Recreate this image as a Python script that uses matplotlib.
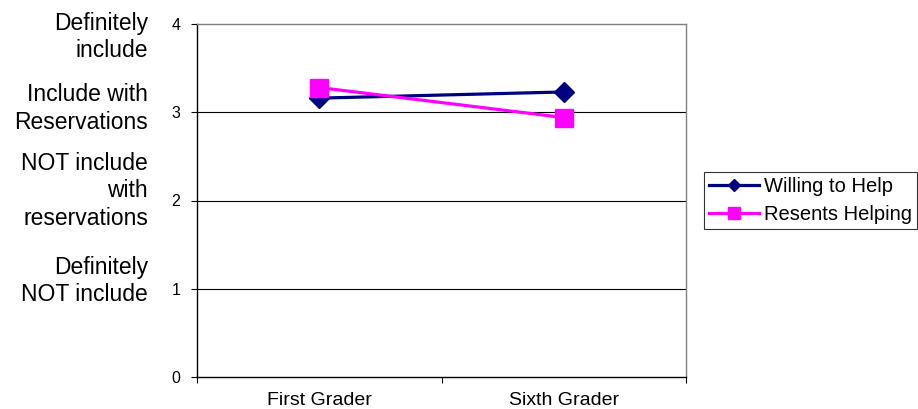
import matplotlib
matplotlib.use("Agg")
import matplotlib.pyplot as plt
import numpy as np

plt.rcParams['font.family'] = ['Liberation Sans', 'DejaVu Sans']

grades = ['First Grader', 'Sixth Grader']
willing = [3.16, 3.23]
resents = [3.28, 2.94]
y_ticks = [0, 1, 2, 3, 4]
scale_labels = ['Definitely\ninclude', 'Include with\nReservations',
                'NOT include\nwith\nreservations', 'Definitely\nNOT include']
scale_label_y = [3.85, 3.04, 2.11, 1.09]

fig = plt.figure(figsize=(9.18, 4.09), dpi=100)
ax = fig.add_axes([197 / 918, 32 / 409, 489 / 918, 353 / 409])

x = np.arange(len(grades))
ax.plot(x, willing, color='#000080', lw=2.3, marker='D', markersize=10,
        label='Willing to Help', zorder=3)
ax.plot(x, resents, color='#FF00FF', lw=2.3, marker='s', markersize=12.5,
        label='Resents Helping', zorder=3)

ax.set_xlim(-0.5, 1.5)
ax.set_ylim(0, 4)

for yv in [1, 2, 3]:
    ax.axhline(yv, color='black', lw=0.8, zorder=1)

ax.set_yticks(y_ticks)
ax.set_yticklabels([str(v) for v in y_ticks], fontsize=11.5)
ax.tick_params(axis='y', direction='out', length=4, width=0.8, pad=8)

# category boundaries get the tick marks, names sit between them
ax.set_xticks([-0.5, 0.5, 1.5])
ax.set_xticklabels([])
ax.set_xticks(x, minor=True)
ax.set_xticklabels(grades, minor=True, fontsize=14)
ax.tick_params(axis='x', which='major', direction='out', length=4, width=0.8)
ax.tick_params(axis='x', which='minor', length=0, pad=10.5)

ax.spines['left'].set_color('black')
ax.spines['bottom'].set_color('black')
ax.spines['top'].set_color('#808080')
ax.spines['right'].set_color('#808080')
for s in ax.spines.values():
    s.set_linewidth(1.0)

for lab, yv in zip(scale_labels, scale_label_y):
    ax.text(-0.1, yv, lab, ha='right', va='center', fontsize=16.5,
            transform=ax.get_yaxis_transform(), linespacing=1.25)

leg = ax.legend(loc='center left', bbox_to_anchor=(1.037, 0.50), fontsize=14.5,
                frameon=True, fancybox=False, edgecolor='black',
                handlelength=2.5, handletextpad=0.2, borderpad=0.25,
                labelspacing=0.42, borderaxespad=0, markerscale=0.65)
leg.get_frame().set_linewidth(0.8)

fig.savefig('out.png', dpi=100)
